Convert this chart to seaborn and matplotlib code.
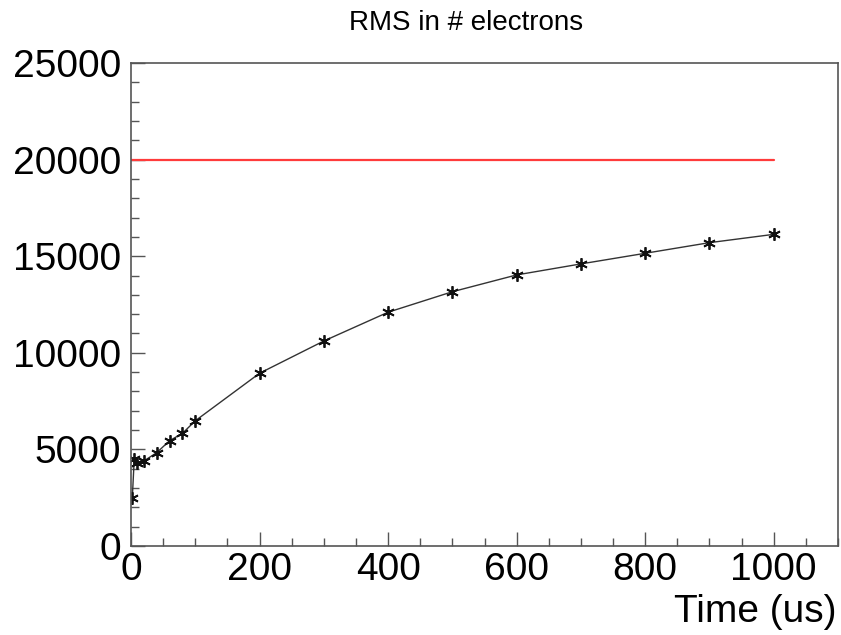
import matplotlib
matplotlib.use("Agg")
import matplotlib.pyplot as plt
from matplotlib.ticker import MultipleLocator
import seaborn as sns
import pandas as pd

# RMS noise (in electrons) versus integration time
time_us = [2, 5, 10, 20, 40, 60, 80, 100, 200, 300, 400, 500, 600, 700, 800, 900, 1000]
rms_electrons = [2500, 4500, 4300, 4400, 4830, 5450, 5830, 6480, 8940, 10610, 12100,
                 13160, 14030, 14600, 15150, 15700, 16130]

# Reference level
ref_time = [0, 1000]
ref_level = [20000, 20000]

title_text = "RMS in # electrons"
xlabel_text = "Time (us)"

sns.set_theme(style="white")
plt.rcParams["font.family"] = ["Liberation Sans", "DejaVu Sans"]
plt.rcParams["text.color"] = "black"

df = pd.DataFrame({"time": time_us, "rms": rms_electrons})
ref = pd.DataFrame({"time": ref_time, "level": ref_level})

fig = plt.figure(figsize=(8.41, 6.35), dpi=100)
ax = fig.add_axes([0.1558, 0.1402, 0.8406, 0.7606])

sns.lineplot(data=ref, x="time", y="level", ax=ax, color="#ff3b3b", linewidth=1.6)
sns.lineplot(data=df, x="time", y="rms", ax=ax, color="#333333", linewidth=1.0,
             marker=(6, 2, 0), markersize=9, markeredgecolor="#111111",
             markerfacecolor="#111111", markeredgewidth=1.3)

ax.set_xlim(0, 1100)
ax.set_ylim(0, 25000)

ax.xaxis.set_major_locator(MultipleLocator(200))
ax.xaxis.set_minor_locator(MultipleLocator(50))
ax.yaxis.set_major_locator(MultipleLocator(5000))
ax.yaxis.set_minor_locator(MultipleLocator(1000))

ax.tick_params(axis="both", which="major", direction="in", length=10, width=1,
               color="#555555", labelsize=28, labelcolor="black")
ax.tick_params(axis="both", which="minor", direction="in", length=6, width=1,
               color="#555555")
ax.tick_params(axis="x", which="major", pad=4)
ax.tick_params(axis="y", which="major", pad=7)
ax.tick_params(axis="both", which="both", bottom=True, left=True, top=False, right=False)

for s in ax.spines.values():
    s.set_color("#555555")
    s.set_linewidth(1.2)

ax.set_xlabel("")
ax.set_ylabel("")
fig.text(0.5545, 0.963, title_text, ha="center", va="center", fontsize=20, color="black")
fig.text(0.995, 0.036, xlabel_text, ha="right", va="center", fontsize=28, color="black")

fig.savefig("out.png", dpi=100)
